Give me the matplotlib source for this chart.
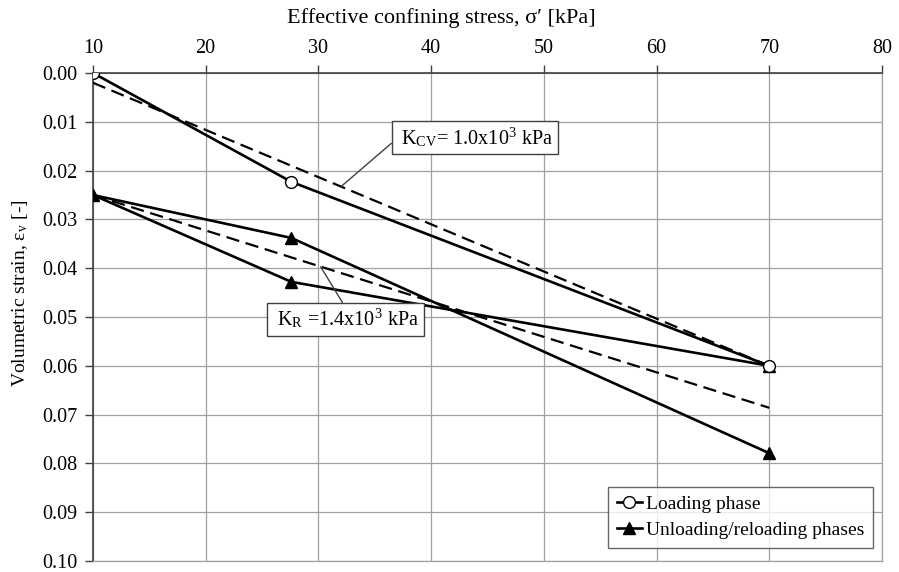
import matplotlib.pyplot as plt

plt.rcParams['font.family'] = ['Liberation Serif', 'DejaVu Serif']
plt.rcParams['mathtext.fontset'] = 'stix'

# loading phase
load_stress = [10, 27.6, 70]
load_strain = [0.0, 0.0223, 0.060]

# unloading / reloading phases
unload_stress = [70, 27.6, 10, 27.6, 70]
unload_strain = [0.060, 0.0428, 0.025, 0.0338, 0.0779]

# fitted stiffness lines
kcv_stress = [10, 70]
kcv_strain = [0.002, 0.060]
kr_stress = [10, 70]
kr_strain = [0.025, 0.0686]

x_ticks = [10, 20, 30, 40, 50, 60, 70, 80]
y_ticks = [0.00, 0.01, 0.02, 0.03, 0.04, 0.05, 0.06, 0.07, 0.08, 0.09, 0.10]

fig = plt.figure(figsize=(8.99, 5.72), dpi=100)
ax = fig.add_axes([0.1034, 0.0192, 0.8776, 0.8532])

dash = (0, (6, 3))
ax.plot(kcv_stress, kcv_strain, color='black', lw=1.6, ls=dash, zorder=3)
ax.plot(kr_stress, kr_strain, color='black', lw=1.6, ls=dash, zorder=3)

ax.plot(load_stress, load_strain, color='black', lw=1.9, marker='o', ms=8.5,
        mfc='white', mec='black', mew=1.0, label='Loading phase', zorder=5)
ax.plot(unload_stress, unload_strain, color='black', lw=1.9, marker='^', ms=9,
        mfc='black', mec='black', label='Unloading/reloading phases', zorder=4)

ax.set_xlim(10, 80)
ax.set_ylim(0.10, 0.0)
ax.set_xticks(x_ticks)
ax.set_yticks(y_ticks)
ax.set_yticklabels([f'{v:.2f}' for v in y_ticks])
ax.xaxis.tick_top()
ax.xaxis.set_label_position('top')
ax.tick_params(labelsize=14.5, direction='out', length=6, width=1.0, color='#404040')
ax.tick_params(axis='x', pad=5)
ax.tick_params(axis='y', pad=5)

ax.set_xlabel('Effective confining stress, σ′ [kPa]', fontsize=16)
ax.set_ylabel('Volumetric strain, ε$_\\mathregular{v}$ [-]', fontsize=14)
ax.xaxis.set_label_coords(0.441, 1.1127)
ax.xaxis.label.set_va('center')
ax.yaxis.set_label_coords(-0.0925, 0.549)
ax.yaxis.label.set_va('center')

ax.grid(True, color='#a0a0a0', lw=0.9)
ax.set_axisbelow(True)
for side in ['left', 'top']:
    ax.spines[side].set_color('#404040')
    ax.spines[side].set_linewidth(1.2)
for side in ['right', 'bottom']:
    ax.spines[side].set_color('#a0a0a0')
    ax.spines[side].set_linewidth(0.9)

box = dict(boxstyle='square,pad=0.22', fc='white', ec='#404040', lw=1.0)
ax.annotate(' K$_\\mathregular{CV}$= 1.0x10$^\\mathregular{3}$ kPa ', xy=(32.0, 0.0233),
            xytext=(43.9, 0.0133), fontsize=14.5, ha='center', va='center',
            bbox=box, arrowprops=dict(arrowstyle='-', color='#404040', lw=1.0,
                                      shrinkA=0, shrinkB=0, relpos=(0, 0.45)),
            zorder=6)
ax.annotate(' K$_\\mathregular{R}$ =1.4x10$^\\mathregular{3}$ kPa ', xy=(30.2, 0.0397),
            xytext=(32.4, 0.0505), fontsize=14.5, ha='center', va='center',
            bbox=box, arrowprops=dict(arrowstyle='-', color='#404040', lw=1.0,
                                      shrinkA=0, shrinkB=0, relpos=(0.5, 1)),
            zorder=6)

leg = ax.legend(loc='lower right', bbox_to_anchor=(0.9886, 0.0266), fontsize=14,
                borderaxespad=0, handlelength=1.3, handletextpad=0.2, borderpad=0.45,
                labelspacing=0.45, frameon=True, fancybox=False)
leg.get_frame().set_edgecolor('#404040')
leg.get_frame().set_linewidth(1.0)

fig.savefig('out.png', dpi=100)
